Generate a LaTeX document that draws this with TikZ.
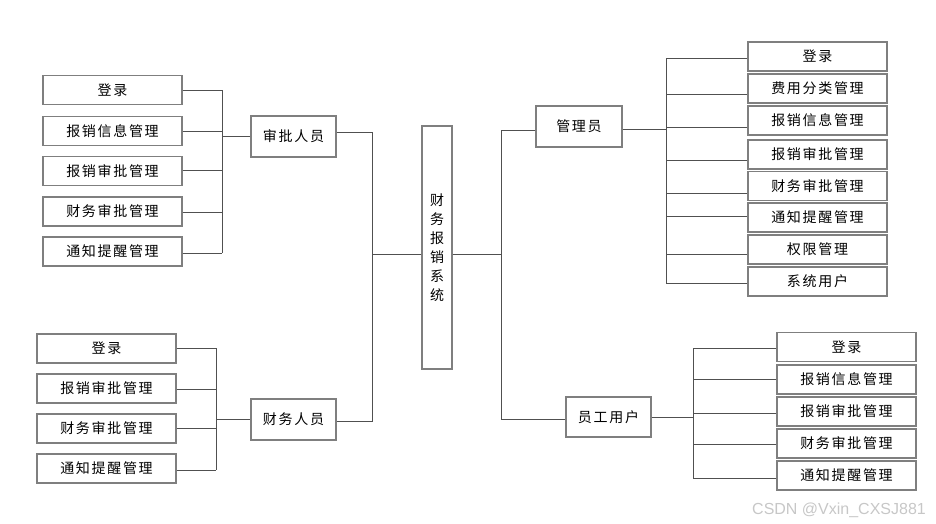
\documentclass[tikz,border=0pt]{standalone}
\usepackage{fontspec}
\newfontfamily\cjk[LetterSpace=12]{Noto Sans CJK SC}
\newfontfamily\wmfont{Liberation Sans}
\definecolor{boxgray}{HTML}{7F7F7F}
\definecolor{linegray}{HTML}{505050}
\begin{document}
\begin{tikzpicture}[x=1pt,y=-1pt,
  box/.style={draw=boxgray, line width=1.3pt, fill=white, inner sep=0pt,
    minimum width=139pt, minimum height=29pt, font=\cjk\fontsize{14}{16}\selectfont},
  rolebox/.style={box, minimum width=85pt, minimum height=41pt},
  conn/.style={draw=linegray, line width=0.9pt}]
\useasboundingbox (0,0) rectangle (936,523);

% central
\node[box, minimum width=30pt, minimum height=243pt, align=center,
  font=\cjk\fontsize{14}{19}\selectfont] (S) at (437,247.5) {财\\务\\报\\销\\系\\统};

% roles
\node[rolebox] (A) at (293.5,136.5) {审批人员};
\node[rolebox] (B) at (293.5,419.5) {财务人员};
\node[rolebox, minimum width=86pt] (G) at (579,126.5) {管理员};
\node[rolebox, minimum height=40pt] (E) at (608.5,417) {员工用户};

% left top group
\node[box] (L1) at (112.5,90) {登录};
\node[box] (L2) at (112.5,131) {报销信息管理};
\node[box] (L3) at (112.5,171) {报销审批管理};
\node[box] (L4) at (112.5,211.5) {财务审批管理};
\node[box] (L5) at (112.5,251.5) {通知提醒管理};

% left bottom group
\node[box] (M1) at (106.5,348.5) {登录};
\node[box] (M2) at (106.5,388.5) {报销审批管理};
\node[box] (M3) at (106.5,428.5) {财务审批管理};
\node[box] (M4) at (106.5,468.5) {通知提醒管理};

% right top group
\node[box] (R1) at (817.5,56.5) {登录};
\node[box] (R2) at (817.5,88.5) {费用分类管理};
\node[box] (R3) at (817.5,120.5) {报销信息管理};
\node[box] (R4) at (817.5,154.5) {报销审批管理};
\node[box] (R5) at (817.5,186) {财务审批管理};
\node[box] (R6) at (817.5,217.5) {通知提醒管理};
\node[box] (R7) at (817.5,249.5) {权限管理};
\node[box] (R8) at (817.5,281.5) {系统用户};

% right bottom group
\node[box] (P1) at (846.5,347) {登录};
\node[box] (P2) at (846.5,379.5) {报销信息管理};
\node[box] (P3) at (846.5,411.5) {报销审批管理};
\node[box] (P4) at (846.5,443.5) {财务审批管理};
\node[box] (P5) at (846.5,475.5) {通知提醒管理};

% bus coordinates
\coordinate (lb) at (222,0);
\coordinate (mb) at (216,0);
\coordinate (sp) at (372,0);
\coordinate (rs) at (501,0);
\coordinate (rb) at (666,0);
\coordinate (eb) at (693,0);

% left top connectors
\draw[conn] (L1.east -| lb) -- ([yshift=-1.5pt]L5.east -| lb);
\foreach \n/\d in {L1/0,L2/0,L3/1,L4/-0.5,L5/-1.5}
  \draw[conn] ([yshift=\d pt]\n.east) -- ([yshift=\d pt]\n.east -| lb);
\draw[conn] (lb |- A.west) -- (A.west);

% left bottom connectors
\draw[conn] ([yshift=0.5pt]M1.east -| mb) -- ([yshift=-1.5pt]M4.east -| mb);
\foreach \n/\d in {M1/0.5,M2/-0.5,M3/0,M4/-1.5}
  \draw[conn] ([yshift=\d pt]\n.east) -- ([yshift=\d pt]\n.east -| mb);
\draw[conn] (mb |- B.west) -- (B.west);

% spine left
\draw[conn] ([yshift=4.5pt]A.east) -- ([yshift=4.5pt]A.east -| sp) -- ([yshift=-1.5pt]B.east -| sp) -- ([yshift=-1.5pt]B.east);
\draw[conn] ([yshift=-6.5pt]S.west) -- ([yshift=-6.5pt]S.west -| sp);

% spine right
\draw[conn] ([yshift=-6.5pt]S.east) -- ([yshift=-6.5pt]S.east -| rs);
\draw[conn] ([yshift=-3.5pt]G.west) -- ([yshift=-3.5pt]G.west -| rs) -- ([yshift=-2pt]E.west -| rs) -- ([yshift=-2pt]E.west);

% right top connectors
\draw[conn] ([yshift=-2.5pt]G.east) -- ([yshift=-2.5pt]G.east -| rb);
\draw[conn] ([yshift=-1.5pt]R1.west -| rb) -- ([yshift=-1.8pt]R8.west -| rb);
\foreach \n/\d in {R1/-1.5,R2/-5.8,R3/-7.2,R4/-5.8,R5/-7.3,R6/0.8,R7/-4.5,R8/-1.8}
  \draw[conn] ([yshift=\d pt]\n.west) -- ([yshift=\d pt]\n.west -| rb);

% right bottom connectors
\draw[conn] (E.east) -- (E.east -| eb);
\draw[conn] ([yshift=-1pt]P1.west -| eb) -- ([yshift=-2.5pt]P5.west -| eb);
\foreach \n/\d in {P1/-1,P2/0.5,P3/-1.5,P4/-0.5,P5/-2.5}
  \draw[conn] ([yshift=\d pt]\n.west) -- ([yshift=\d pt]\n.west -| eb);

% watermark
\node[anchor=base west, inner sep=0pt, text=black!22, font=\wmfont\fontsize{16}{18}\selectfont] (wm) at (752,514) {CSDN @Vxin\_CXSJ881};
\end{tikzpicture}
\end{document}
